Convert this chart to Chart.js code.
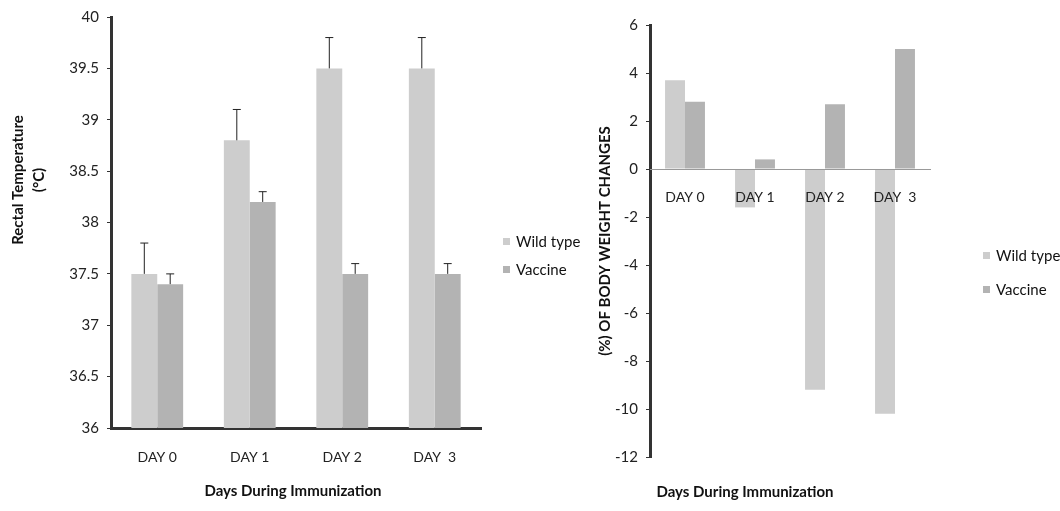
<!DOCTYPE html>
<html>
<head>
<meta charset="utf-8">
<script src="https://cdn.jsdelivr.net/npm/chart.js@4"></script>
<style>
  body { margin: 0; background: #fff; width: 1060px; height: 511px; position: relative; overflow: hidden; }
  canvas { position: absolute; top: 0; }
  #tempChart { left: 0; }
  #weightChart { left: 590px; }
</style>
</head>
<body>
<canvas id="tempChart" width="590" height="511"></canvas>
<canvas id="weightChart" width="470" height="511"></canvas>
<script>
const days = ["DAY 0", "DAY 1", "DAY 2", "DAY  3"];
const seriesNames = ["Wild type", "Vaccine"];

// rectal temperature (left)
const tempWild = [37.5, 38.8, 39.5, 39.5];
const tempVaccine = [37.4, 38.2, 37.5, 37.5];
const tempWildErr = [0.3, 0.3, 0.3, 0.3];
const tempVaccineErr = [0.1, 0.1, 0.1, 0.1];

// body weight change (right)
const weightWild = [3.7, -1.6, -9.2, -10.2];
const weightVaccine = [2.8, 0.4, 2.7, 5.0];

const wildColor = "#cdcdcd";
const vaccineColor = "#b3b3b3";
const font = "Lato, 'Open Sans', sans-serif";

// upward-only error bars with a cap
const errorBars = {
  id: "errorBars",
  afterDatasetsDraw(chart) {
    const ctx = chart.ctx;
    const y = chart.scales.y;
    chart.data.datasets.forEach((ds, i) => {
      if (!ds.errors) return;
      chart.getDatasetMeta(i).data.forEach((bar, j) => {
        const top = y.getPixelForValue(ds.data[j] + ds.errors[j]);
        ctx.save();
        ctx.strokeStyle = "#222";
        ctx.lineWidth = 1;
        ctx.beginPath();
        ctx.moveTo(bar.x, bar.y);
        ctx.lineTo(bar.x, top);
        ctx.moveTo(bar.x - 4, top);
        ctx.lineTo(bar.x + 4, top);
        ctx.stroke();
        ctx.restore();
      });
    });
  }
};

// axis titles and legend, placed like the original figure
const annotate = {
  id: "annotate",
  afterDraw(chart, args, o) {
    const ctx = chart.ctx;
    ctx.save();
    ctx.fillStyle = "#111";
    ctx.textAlign = "center";
    ctx.textBaseline = "middle";
    ctx.font = "bold 15px " + font;
    o.yTitle.forEach((line, k) => {
      ctx.save();
      ctx.translate(o.yTitleX + k * 21, o.yTitleY);
      ctx.rotate(-Math.PI / 2);
      ctx.fillText(line, 0, 0);
      ctx.restore();
    });
    ctx.fillText(o.xTitle, o.xTitleX, o.xTitleY);
    ctx.textAlign = "left";
    ctx.font = "15px " + font;
    chart.data.datasets.forEach((ds, i) => {
      const ly = o.legendY + i * o.legendGap;
      ctx.fillStyle = ds.backgroundColor;
      ctx.fillRect(o.legendX, ly - 4, 7, 7);
      ctx.fillStyle = "#111";
      ctx.fillText(ds.label, o.legendX + 13, ly);
    });
    ctx.restore();
  }
};

new Chart(document.getElementById("tempChart"), {
  type: "bar",
  data: {
    labels: days,
    datasets: [
      { label: seriesNames[0], data: tempWild, errors: tempWildErr, backgroundColor: wildColor },
      { label: seriesNames[1], data: tempVaccine, errors: tempVaccineErr, backgroundColor: vaccineColor }
    ]
  },
  options: {
    responsive: false,
    animation: false,
    layout: { padding: { top: 16, right: 109, left: 0, bottom: 0 } },
    datasets: { bar: { categoryPercentage: 0.56, barPercentage: 1 } },
    plugins: {
      legend: { display: false },
      tooltip: { enabled: false },
      annotate: {
        yTitle: ["Rectal Temperature", "(°C)"], yTitleX: 18, yTitleY: 180,
        xTitle: "Days During Immunization", xTitleX: 293, xTitleY: 491,
        legendX: 503, legendY: 242, legendGap: 28
      }
    },
    scales: {
      x: {
        grid: { display: false },
        border: { color: "#333", width: 3 },
        ticks: { padding: 13, color: "#222", font: { family: font, size: 14 } },
        afterFit: s => { s.height = 83; }
      },
      y: {
        min: 36, max: 40,
        grid: { drawOnChartArea: false, tickLength: 4, color: "#333" },
        border: { color: "#333", width: 3 },
        ticks: { stepSize: 0.5, padding: 8, color: "#222", font: { family: font, size: 15 },
                 callback: v => String(+v.toFixed(1)) },
        afterFit: s => { s.width = 111; }
      }
    }
  },
  plugins: [errorBars, annotate]
});

new Chart(document.getElementById("weightChart"), {
  type: "bar",
  data: {
    labels: days,
    datasets: [
      { label: seriesNames[0], data: weightWild, backgroundColor: wildColor },
      { label: seriesNames[1], data: weightVaccine, backgroundColor: vaccineColor }
    ]
  },
  options: {
    responsive: false,
    animation: false,
    layout: { padding: { top: 25, right: 130, left: 0, bottom: 54 } },
    datasets: { bar: { categoryPercentage: 0.57, barPercentage: 1 } },
    plugins: {
      legend: { display: false },
      tooltip: { enabled: false },
      annotate: {
        yTitle: ["(%) OF BODY WEIGHT CHANGES"], yTitleX: 15, yTitleY: 241,
        xTitle: "Days During Immunization", xTitleX: 155, xTitleY: 492,
        legendX: 393, legendY: 256, legendGap: 34
      }
    },
    scales: {
      x: {
        position: { y: 0 },
        grid: { display: false },
        border: { color: "#999", width: 1, dash: [2, 2], z: 1 },
        ticks: { padding: 12, color: "#222", font: { family: font, size: 14 }, z: 1 },
        afterFit: s => { s.height = 54; }
      },
      y: {
        min: -12, max: 6,
        grid: { drawOnChartArea: false, tickLength: 4, color: "#333" },
        border: { color: "#333", width: 3 },
        ticks: { stepSize: 2, padding: 8, color: "#222", font: { family: font, size: 15 } },
        afterFit: s => { s.width = 60; }
      }
    }
  },
  plugins: [annotate]
});
</script>
</body>
</html>
